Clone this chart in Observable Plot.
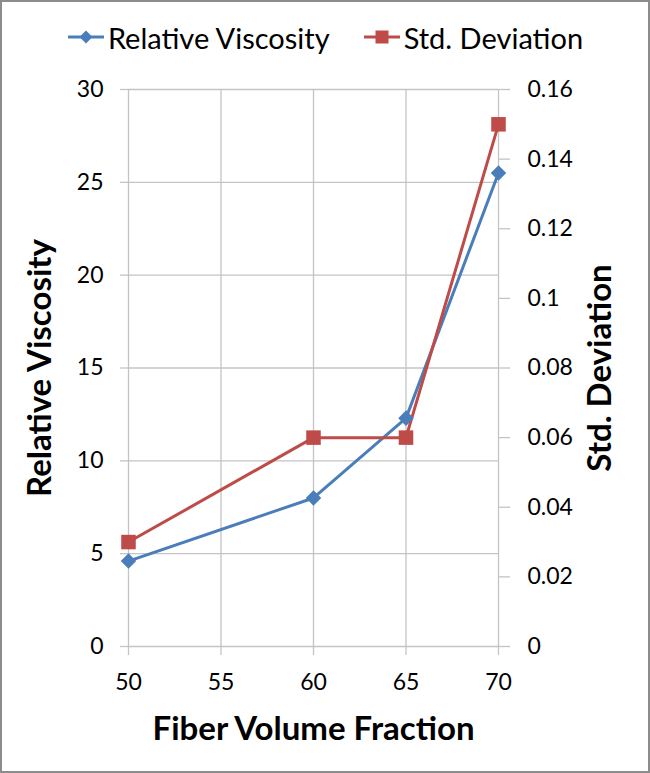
<!DOCTYPE html>
<html>
<head>
<meta charset="utf-8">
<script src="https://cdn.jsdelivr.net/npm/d3@7"></script>
<script src="https://cdn.jsdelivr.net/npm/@observablehq/plot@0.6"></script>
<style>
  html, body { margin: 0; padding: 0; background: #fff; }
  #frame { width: 650px; height: 773px; box-sizing: border-box; border: 2px solid #8c8c8c; background: #fff; font-family: Lato, "Open Sans", sans-serif; overflow: hidden; }
  #legend { height: 70px; display: flex; align-items: center; justify-content: center; font-size: 29px; color: #000; gap: 33px; }
  .item { display: flex; align-items: center; }
  .item svg { margin-right: 3px; }
  #chart svg { display: block; }
</style>
</head>
<body>
<div id="frame">
  <div id="legend"></div>
  <div id="chart"></div>
</div>
<script>
const fibers = [50, 60, 65, 70];
const relVisc = [4.6, 8.0, 12.3, 25.5];
const stdDev = [0.03, 0.06, 0.06, 0.15];
const seriesNames = ["Relative Viscosity", "Std. Deviation"];
const seriesColors = ["#4a7ebb", "#be4b48"];
const xTicks = [50, 55, 60, 65, 70];
const leftTicks = [0, 5, 10, 15, 20, 25, 30];
const rightTicks = [0, 0.02, 0.04, 0.06, 0.08, 0.1, 0.12, 0.14, 0.16];
const leftMax = 30, rightMax = 0.16;
const k = leftMax / rightMax;

const rows = fibers.map((f, i) => ({f, rv: relVisc[i], sd: stdDev[i]}));

// legend
const legend = document.getElementById("legend");
seriesNames.forEach((name, i) => {
  const div = document.createElement("div");
  div.className = "item";
  const marker = i === 0
    ? `<path d="M19,1.5 L25.5,8 L19,14.5 L12.5,8 Z" fill="${seriesColors[i]}"/>`
    : `<rect x="12.5" y="1.5" width="13" height="13" fill="${seriesColors[i]}"/>`;
  div.innerHTML = `<svg width="38" height="16"><line x1="1" y1="8" x2="37" y2="8" stroke="${seriesColors[i]}" stroke-width="3"/>${marker}</svg><span>${name}</span>`;
  legend.appendChild(div);
});

const grid = "#c4c4c4";
const chart = Plot.plot({
  width: 646,
  height: 699,
  marginTop: 17,
  marginBottom: 125,
  marginLeft: 126,
  marginRight: 150,
  style: {fontFamily: "Lato, 'Open Sans', sans-serif", fontSize: "23px", color: "#000", background: "#fff"},
  x: {domain: [50, 70]},
  y: {domain: [0, leftMax]},
  marks: [
    Plot.gridY(leftTicks, {stroke: grid, strokeOpacity: 1, strokeWidth: 1.3}),
    Plot.gridX(xTicks, {stroke: grid, strokeOpacity: 1, strokeWidth: 1.3}),
    Plot.axisX(xTicks, {tickSize: 9, tickPadding: 18, stroke: grid, strokeWidth: 1.3, fill: "#000", label: null}),
    Plot.axisY(leftTicks, {anchor: "left", tickSize: 8, tickPadding: 17, stroke: grid, strokeWidth: 1.3, fill: "#000", label: null}),
    Plot.axisY(rightTicks.map(d => d * k), {anchor: "right", tickSize: 11, tickPadding: 18, stroke: grid, strokeWidth: 1.3, fill: "#000", label: null,
      tickFormat: d => String(+(d / k).toFixed(2))}),
    Plot.lineY(rows, {x: "f", y: "rv", stroke: seriesColors[0], strokeWidth: 3}),
    Plot.lineY(rows, {x: "f", y: d => d.sd * k, stroke: seriesColors[1], strokeWidth: 3}),
    Plot.dot(rows, {x: "f", y: "rv", symbol: "diamond2", r: 7, fill: seriesColors[0], stroke: "none"}),
    Plot.dot(rows, {x: "f", y: d => d.sd * k, symbol: "square", r: 8.2, fill: seriesColors[1], stroke: "none"}),
    Plot.text(["Relative Viscosity"], {frameAnchor: "left", dx: -88, rotate: -90, textAnchor: "middle", lineAnchor: "middle", fontSize: 33, fontWeight: "bold", fill: "#000"}),
    Plot.text(["Std. Deviation"], {frameAnchor: "right", dx: 102, rotate: -90, textAnchor: "middle", lineAnchor: "middle", fontSize: 33, fontWeight: "bold", fill: "#000"}),
    Plot.text(["Fiber Volume Fraction"], {frameAnchor: "bottom", dy: 83, textAnchor: "middle", lineAnchor: "middle", fontSize: 33, fontWeight: "bold", fill: "#000"})
  ]
});
document.getElementById("chart").appendChild(chart);
</script>
</body>
</html>
